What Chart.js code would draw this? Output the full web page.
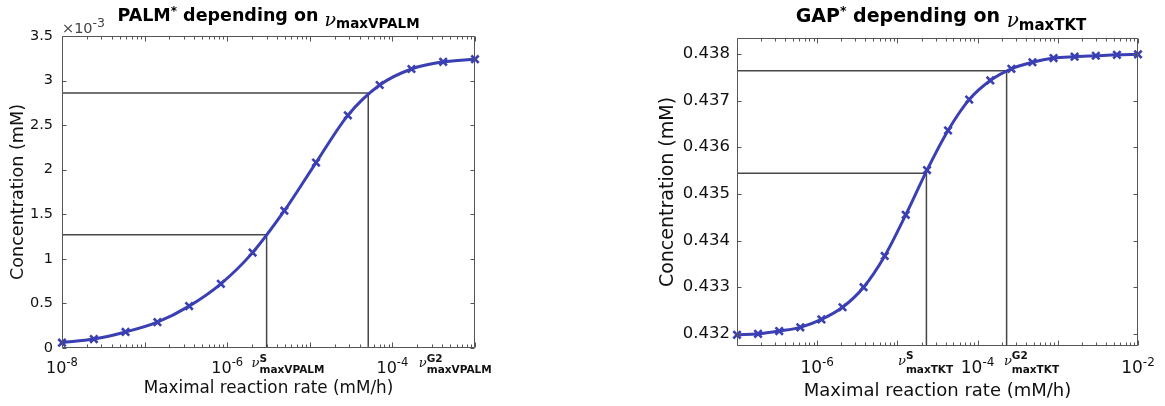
<!DOCTYPE html>
<html>
<head>
<meta charset="utf-8">
<script src="https://cdn.jsdelivr.net/npm/chart.js@4.4.1/dist/chart.umd.min.js"></script>
<style>
    html, body { margin: 0; padding: 0; background: #fff; }
    body { width: 1165px; height: 406px; position: relative; overflow: hidden; }
    .panel { position: absolute; top: 0; height: 406px; }
    #palmPanel { left: 0; width: 520px; }
    #gapPanel { left: 650px; width: 515px; }
</style>
</head>
<body>
<div class="panel" id="palmPanel"><canvas id="palmChart"></canvas></div>
<div class="panel" id="gapPanel"><canvas id="gapChart"></canvas></div>
<script>
// --- PALM* vs nu_maxVPALM (left) ---
const palmRates = [1e-8, 2.43e-8, 5.88e-8, 1.43e-7, 3.46e-7, 8.38e-7, 2.03e-6, 4.92e-6,
                   1.19e-5, 2.89e-5, 7.02e-5, 1.70e-4, 4.12e-4, 1e-3];
const palmConc = [0.06e-3, 0.10e-3, 0.18e-3, 0.29e-3, 0.47e-3, 0.72e-3, 1.07e-3, 1.54e-3,
                  2.08e-3, 2.61e-3, 2.95e-3, 3.13e-3, 3.21e-3, 3.24e-3];
const palmRefRates = [3.0e-6, 5.1e-5];
const palmRefConc = [1.27e-3, 2.86e-3];
const palmRefNames = ['S', 'G2'];
const palmXTickExps = [-8, -6, -4];

// --- GAP* vs nu_maxTKT (right) ---
const gapRates = [1e-7, 1.83e-7, 3.36e-7, 6.16e-7, 1.13e-6, 2.07e-6, 3.79e-6, 6.95e-6,
                  1.27e-5, 2.34e-5, 4.28e-5, 7.85e-5, 1.44e-4, 2.64e-4, 4.83e-4, 8.86e-4,
                  1.62e-3, 2.98e-3, 5.46e-3, 1e-2];
const gapConc = [0.43198, 0.43200, 0.43206, 0.43214, 0.43231, 0.43257, 0.43300, 0.43367,
                 0.43455, 0.43551, 0.43636, 0.43702, 0.43743, 0.43768, 0.43782, 0.43791,
                 0.43794, 0.43796, 0.43798, 0.43799];
const gapRefRates = [2.3e-5, 2.3e-4];
const gapRefConc = [0.43544, 0.43764];
const gapRefNames = ['S', 'G2'];
const gapXTickExps = [-6, -4, -2];

const xTitle = 'Maximal reaction rate (mM/h)';
const yTitle = 'Concentration (mM)';

// --- Styling ---
const FAM = '"DejaVu Sans"';
const BLUE = '#3a3fb3';
const AXIS = '#555';
const REF = '#474747';
const f = (size, w = '') => `${w} ${size}px ${FAM}`.trim();
const nu = size => `italic ${size}px "DejaVu Serif"`;

// draws text segments, a segment with .stack puts sup and sub at the same x
function drawRich(ctx, segs, x, y, align, color) {
    let w = 0;
    segs.forEach(s => {
        const parts = s.stack || [s];
        s.w = Math.max(...parts.map(p => { ctx.font = p.f; return ctx.measureText(p.t).width; }));
        w += s.w;
    });
    let cx = align === 'center' ? x - w / 2 : x;
    ctx.fillStyle = color;
    ctx.textAlign = 'left';
    ctx.textBaseline = 'alphabetic';
    segs.forEach(s => {
        (s.stack || [s]).forEach(p => { ctx.font = p.f; ctx.fillText(p.t, cx, y + (p.dy || 0)); });
        cx += s.w;
    });
}

const matlabAxes = {
    id: 'matlab',
    afterDraw(chart, args, o) {
        const { ctx, chartArea: a, scales: { x, y } } = chart;
        ctx.save();
        // box + inward ticks
        ctx.strokeStyle = AXIS;
        ctx.lineWidth = 1;
        const L = Math.round(a.left) + 0.5, R = Math.round(a.right) - 0.5;
        const T = Math.round(a.top) + 0.5, B = Math.round(a.bottom) - 0.5;
        ctx.beginPath();
        ctx.rect(L, T, R - L, B - T);
        y.ticks.forEach(t => {
            const py = Math.round(y.getPixelForValue(t.value)) + 0.5;
            ctx.moveTo(L, py); ctx.lineTo(L + 4, py);
            ctx.moveTo(R, py); ctx.lineTo(R - 4, py);
        });
        const e0 = Math.floor(Math.log10(x.min)), e1 = Math.ceil(Math.log10(x.max));
        for (let e = e0; e <= e1; e++) {
            for (let k = 1; k <= 9; k++) {
                const v = k * Math.pow(10, e);
                if (v < x.min * 0.999 || v > x.max * 1.001) continue;
                const px = Math.round(x.getPixelForValue(v)) + 0.5;
                const len = k === 1 ? 5 : 3;
                ctx.moveTo(px, B); ctx.lineTo(px, B - len);
                ctx.moveTo(px, T); ctx.lineTo(px, T + len);
            }
        }
        ctx.stroke();

        // title
        const cx = (a.left + a.right) / 2 + o.titleShift;
        drawRich(ctx, o.title, cx, o.titleY, 'center', '#000');

        // decade labels
        o.xExps.forEach(e => {
            const px = x.getPixelForValue(Math.pow(10, e));
            drawRich(ctx, [
                { t: '10', f: f(o.tickSize) },
                { t: String(e), f: f(o.tickSupSize), dy: -7.5 }
            ], px, o.tickY, 'center', '#111');
        });

        // nu labels under the reference lines
        o.refRates.forEach((r, i) => {
            const px = x.getPixelForValue(r) + o.refShift[i];
            drawRich(ctx, [
                { t: '\u03bd', f: nu(o.nuSize) },
                { stack: [
                    { t: o.refNames[i], f: f(10.5, 'bold'), dy: o.supDy },
                    { t: o.sub, f: f(10.5, 'bold'), dy: o.subDy }
                ] }
            ], px, o.nuY, 'left', '#111');
        });

        // axis exponent
        if (o.exponent) {
            drawRich(ctx, [
                { t: '\u00d710', f: f(14.5) },
                { t: o.exponent, f: f(12.5), dy: -6.5 }
            ], a.left, 33, 'left', '#444');
        }
        ctx.restore();
    }
};

function refDataset(xMin, yMin, rx, ry) {
    return {
        data: [{ x: xMin, y: ry }, { x: rx, y: ry }, { x: rx, y: yMin }],
        borderColor: REF, borderWidth: 1.5, pointRadius: 0, tension: 0, clip: false
    };
}

function makeChart(id, c) {
    const datasets = [{
        data: c.rates.map((r, i) => ({ x: r, y: c.conc[i] })),
        borderColor: BLUE, backgroundColor: BLUE, borderWidth: 3,
        pointStyle: 'crossRot', pointRadius: 5.2, pointBorderWidth: 2.6,
        pointBorderColor: BLUE, cubicInterpolationMode: 'monotone', clip: false
    }];
    c.refRates.forEach((r, i) => datasets.push(refDataset(c.xMin, c.yMin, r, c.refConc[i])));

    return new Chart(document.getElementById(id), {
        type: 'line',
        data: { datasets },
        plugins: [matlabAxes],
        options: {
            responsive: true, maintainAspectRatio: false, animation: false,
            layout: { padding: { top: c.padTop, right: c.padRight, left: 0, bottom: 0 } },
            plugins: {
                legend: { display: false },
                tooltip: { enabled: false },
                matlab: c.deco
            },
            scales: {
                x: {
                    type: 'logarithmic', min: c.xMin, max: c.xMax,
                    ticks: { display: false },
                    grid: { display: false, drawTicks: false },
                    border: { display: false },
                    title: { display: true, text: xTitle, color: '#111',
                             font: { family: 'DejaVu Sans', size: c.xTitleSize },
                             padding: { top: 0, bottom: c.xTitlePad } },
                    afterFit: s => { s.height = c.xAxisH; }
                },
                y: {
                    min: c.yMin, max: c.yMax,
                    ticks: { stepSize: c.yStep, includeBounds: false, color: '#111',
                             font: { family: 'DejaVu Sans', size: c.yTickSize },
                             padding: c.yTickPad, callback: c.yFmt },
                    grid: { display: false, drawTicks: false },
                    border: { display: false },
                    title: { display: true, text: yTitle, color: '#111',
                             font: { family: 'DejaVu Sans', size: c.yTitleSize },
                             padding: { top: c.yTitlePad, bottom: 0 } },
                    afterFit: s => { s.width = c.yAxisW; }
                }
            }
        }
    });
}

makeChart('palmChart', {
    rates: palmRates, conc: palmConc, refRates: palmRefRates, refConc: palmRefConc,
    xMin: 1e-8, xMax: 1e-3, yMin: 0, yMax: 3.5e-3, yStep: 0.5e-3,
    yFmt: v => String(Math.round(v * 1e4) / 10),
    padTop: 36, padRight: 45, yAxisW: 62, xAxisH: 58,
    xTitleSize: 16.8, yTitleSize: 17.6, yTickSize: 14.5, yTickPad: 9, yTitlePad: 7.4, xTitlePad: 6.9,
    deco: {
        title: [
            { t: 'PALM', f: f(17.5, 'bold') },
            { t: '*', f: f(12, 'bold'), dy: -6 },
            { t: ' depending on ', f: f(17.5, 'bold') },
            { t: '\u03bd', f: nu(19), dy: 5 },
            { t: 'maxVPALM', f: f(13.5, 'bold'), dy: 7.8 }
        ],
        titleY: 20.5, titleShift: 0,
        xExps: palmXTickExps, tickSize: 16, tickSupSize: 11.5, tickY: 373.3,
        refRates: palmRefRates, refNames: palmRefNames, refShift: [-15, 50.6],
        sub: 'maxVPALM', nuSize: 13, nuY: 367, supDy: -5.5, subDy: 5.8,
        exponent: '-3'
    }
});

makeChart('gapChart', {
    rates: gapRates, conc: gapConc, refRates: gapRefRates, refConc: gapRefConc,
    xMin: 1e-7, xMax: 1e-2, yMin: 0.43174, yMax: 0.43834, yStep: 0.001,
    yFmt: v => v.toFixed(3),
    padTop: 38, padRight: 27, yAxisW: 87, xAxisH: 60,
    xTitleSize: 18, yTitleSize: 19, yTickSize: 16.5, yTickPad: 7, yTitlePad: 6.6, xTitlePad: 3.7,
    deco: {
        title: [
            { t: 'GAP', f: f(19, 'bold') },
            { t: '*', f: f(12.5, 'bold'), dy: -6.5 },
            { t: ' depending on ', f: f(19, 'bold') },
            { t: '\u03bd', f: nu(20), dy: 5.5 },
            { t: 'maxTKT', f: f(15, 'bold'), dy: 8.3 }
        ],
        titleY: 21.7, titleShift: 3.5,
        xExps: gapXTickExps, tickSize: 17, tickSupSize: 12, tickY: 373.3,
        refRates: gapRefRates, refNames: gapRefNames, refShift: [-28.4, -2.7],
        sub: 'maxTKT', nuSize: 13, nuY: 365, supDy: -5.7, subDy: 7.7,
        exponent: null
    }
});
</script>
</body>
</html>
